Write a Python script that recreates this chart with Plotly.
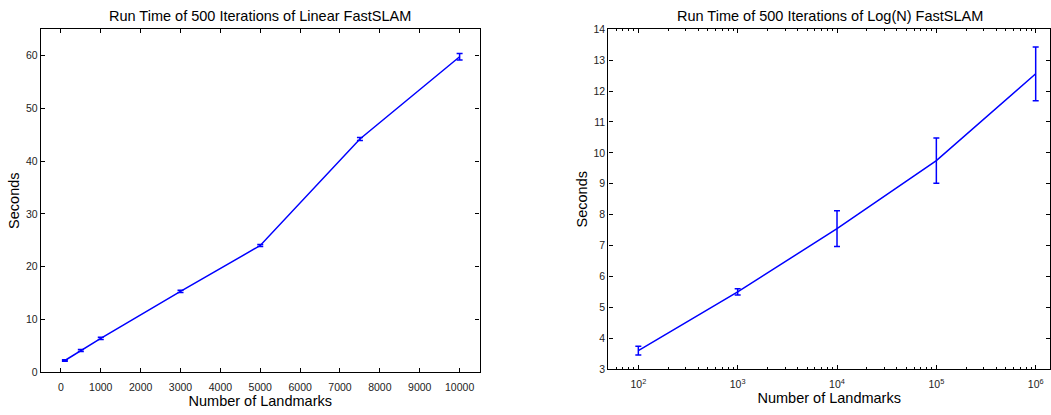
import plotly.graph_objects as go
import numpy as np

# Linear FastSLAM
lin_x = [100, 500, 1000, 3000, 5000, 7500, 10000]
lin_y = [2.2, 4.1, 6.4, 15.3, 24.0, 44.2, 59.8]
lin_err = [0.15, 0.2, 0.2, 0.2, 0.2, 0.3, 0.6]

# Log(N) FastSLAM
log_x = [100, 1000, 10000, 100000, 1000000]
log_y = [3.6, 5.5, 7.55, 9.75, 12.56]
log_err = [0.14, 0.1, 0.58, 0.73, 0.87]

lin_xticks = list(range(0, 10001, 1000))
lin_xticktext = [str(v) for v in lin_xticks]
lin_yticks = list(range(0, 61, 10))
log_xticks = [100, 1000, 10000, 100000, 1000000]
log_xticktext = ["10<sup>2</sup>", "10<sup>3</sup>", "10<sup>4</sup>", "10<sup>5</sup>", "10<sup>6</sup>"]
log_yticks = list(range(3, 15))

W, H = 1051, 415
FONT = "Liberation Sans, Arial, sans-serif"
BLUE = "#0000ff"

fig = go.Figure()
fig.add_trace(go.Scatter(
    x=lin_x, y=lin_y, mode="lines",
    line=dict(color=BLUE, width=1.5),
    error_y=dict(type="data", array=lin_err, color=BLUE, thickness=1.5, width=3),
    xaxis="x", yaxis="y", showlegend=False))
fig.add_trace(go.Scatter(
    x=log_x, y=log_y, mode="lines",
    line=dict(color=BLUE, width=1.5),
    error_y=dict(type="data", array=log_err, color=BLUE, thickness=1.5, width=3),
    xaxis="x2", yaxis="y2", showlegend=False))

axcommon = dict(showline=True, linecolor="black", linewidth=1.3, mirror="ticks",
                ticks="inside", ticklen=4, tickcolor="black", showgrid=False,
                zeroline=False, tickfont=dict(family=FONT, size=10.5, color="#222"))
TFONT = dict(size=14.5, family=FONT, color="black")

fig.update_layout(
    width=W, height=H, margin=dict(l=0, r=0, t=0, b=0),
    paper_bgcolor="white", plot_bgcolor="white",
    font=dict(family=FONT, color="black"),
    xaxis=dict(domain=[41 / W, 480 / W], range=[-500, 10500], tickvals=lin_xticks,
               ticktext=lin_xticktext, anchor="y", ticklabelstandoff=5,
               title=dict(text="Number of Landmarks", font=TFONT, standoff=3),
               **axcommon),
    yaxis=dict(domain=[1 - 377 / H, 1 - 24 / H], range=[0, 65], tickvals=lin_yticks,
               anchor="x",
               title=dict(text="Seconds", font=TFONT, standoff=2),
               **axcommon),
    xaxis2=dict(domain=[609 / W, 1.0], type="log", range=[np.log10(50), 6.144],
                tickvals=log_xticks, ticktext=log_xticktext, anchor="y2", ticklabelstandoff=5,
                minor=dict(ticks="inside", ticklen=2, tickcolor="black", showgrid=False, dtick="D1"),
                title=dict(text="Number of Landmarks", font=TFONT, standoff=3),
                **axcommon),
    yaxis2=dict(domain=[1 - 374 / H, 1 - 24 / H], range=[3, 14], tickvals=log_yticks,
                anchor="x2",
                title=dict(text="Seconds", font=TFONT, standoff=2),
                **axcommon),
    annotations=[
        dict(text="Run Time of 500 Iterations of Linear FastSLAM", x=(41 + 480) / 2 / W, y=1 - 10 / H,
             xref="paper", yref="paper", showarrow=False, xanchor="center", yanchor="middle",
             font=TFONT),
        dict(text="Run Time of 500 Iterations of Log(N) FastSLAM", x=(609 + 1052) / 2 / W, y=1 - 10 / H,
             xref="paper", yref="paper", showarrow=False, xanchor="center", yanchor="middle",
             font=TFONT),
    ],
)

fig.write_html("out.html")
